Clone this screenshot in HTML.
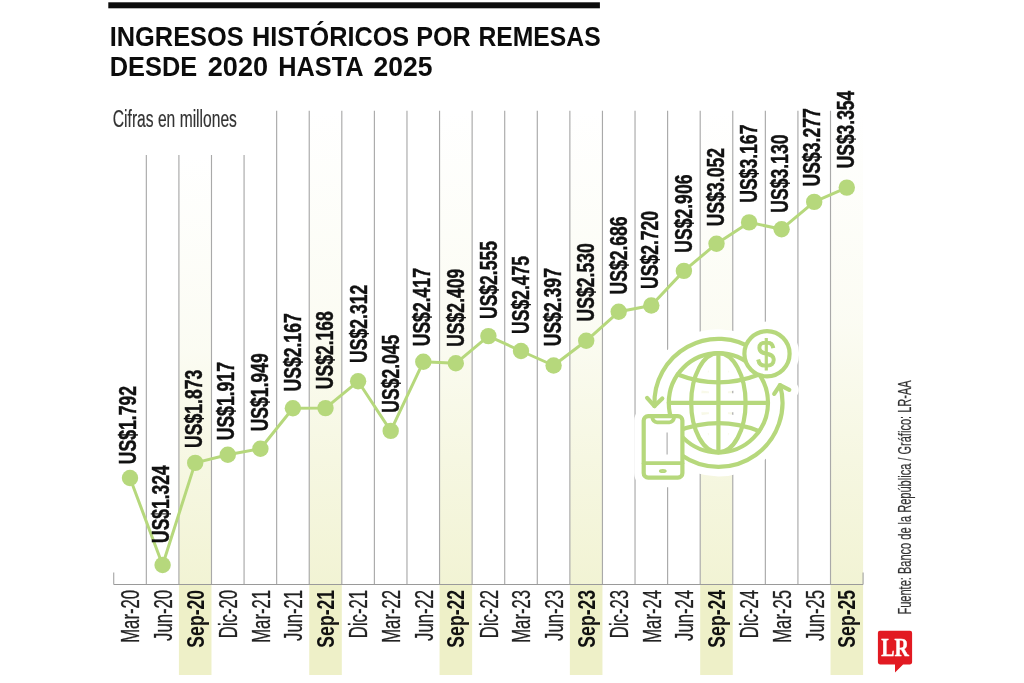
<!DOCTYPE html>
<html lang="es">
<head>
<meta charset="utf-8">
<title>Ingresos históricos por remesas</title>
<style>
html,body{margin:0;padding:0;background:#fff;}
body{width:1024px;height:683px;overflow:hidden;position:relative;}
svg{position:absolute;left:0;top:0;display:block;}
text{font-family:"Liberation Sans",sans-serif;}
.t{font-weight:bold;fill:#0c0c0c;font-size:28px;}
.sub{fill:#333;font-size:23.5px;stroke:#333;stroke-width:0.2px;}
.xl{fill:#222;font-size:25px;stroke:#222;stroke-width:0.3px;}
.xb{fill:#111;font-size:23px;font-weight:bold;}
.dl{fill:#111;font-size:23px;font-weight:bold;stroke:#111;stroke-width:0.45px;}
.src{fill:#333;font-size:18px;stroke:#333;stroke-width:0.2px;}
.lr{font-family:"Liberation Serif",serif;font-weight:bold;fill:#fff;font-size:25px;stroke:#fff;stroke-width:0.4px;}
</style>
</head>
<body>
<svg width="1024" height="683" viewBox="0 0 1024 683">
<defs>
<linearGradient id="bg" x1="0" y1="0" x2="0" y2="1">
<stop offset="0" stop-color="#eef0c8" stop-opacity="0"/>
<stop offset="0.45" stop-color="#eef0c8" stop-opacity="0.22"/>
<stop offset="0.75" stop-color="#eef0c8" stop-opacity="0.55"/>
<stop offset="1" stop-color="#eef0c8" stop-opacity="0.78"/>
</linearGradient>
</defs>
<rect x="0" y="0" width="1024" height="683" fill="#fff"/>
<rect x="108.3" y="2.3" width="491.6" height="6" fill="#0c0c0c"/>
<text class="t"><tspan x="109.75" y="45.7" textLength="133.94" lengthAdjust="spacingAndGlyphs">INGRESOS</tspan> <tspan x="251.96" y="45.7" textLength="157.20" lengthAdjust="spacingAndGlyphs">HISTÓRICOS</tspan> <tspan x="416.27" y="45.7" textLength="54.46" lengthAdjust="spacingAndGlyphs">POR</tspan> <tspan x="478.39" y="45.7" textLength="122.29" lengthAdjust="spacingAndGlyphs">REMESAS</tspan> <tspan x="109.75" y="76.4" textLength="87.45" lengthAdjust="spacingAndGlyphs">DESDE</tspan> <tspan x="207.79" y="76.4" textLength="60.35" lengthAdjust="spacingAndGlyphs">2020</tspan> <tspan x="278.17" y="76.4" textLength="84.44" lengthAdjust="spacingAndGlyphs">HASTA</tspan> <tspan x="373.51" y="76.4" textLength="58.95" lengthAdjust="spacingAndGlyphs">2025</tspan> </text>
<text class="sub" x="112.82" y="127.4" textLength="124.09" lengthAdjust="spacingAndGlyphs">Cifras en millones</text>
<rect x="178.91" y="155" width="32.58" height="429.50" fill="url(#bg)"/>
<rect x="178.91" y="584.5" width="32.58" height="90.50" fill="#eef0c8"/>
<rect x="309.23" y="110.75" width="32.58" height="473.75" fill="url(#bg)"/>
<rect x="309.23" y="584.5" width="32.58" height="90.50" fill="#eef0c8"/>
<rect x="439.55" y="110.75" width="32.58" height="473.75" fill="url(#bg)"/>
<rect x="439.55" y="584.5" width="32.58" height="90.50" fill="#eef0c8"/>
<rect x="569.87" y="110.75" width="32.58" height="473.75" fill="url(#bg)"/>
<rect x="569.87" y="584.5" width="32.58" height="90.50" fill="#eef0c8"/>
<rect x="700.19" y="110.75" width="32.58" height="473.75" fill="url(#bg)"/>
<rect x="700.19" y="584.5" width="32.58" height="90.50" fill="#eef0c8"/>
<rect x="830.51" y="110.75" width="32.58" height="473.75" fill="url(#bg)"/>
<rect x="830.51" y="584.5" width="32.58" height="90.50" fill="#eef0c8"/>
<g stroke="#a9a9a9" stroke-width="1.15">
<line x1="146.33" y1="155" x2="146.33" y2="584.5"/>
<line x1="178.91" y1="155" x2="178.91" y2="584.5"/>
<line x1="211.49" y1="155" x2="211.49" y2="584.5"/>
<line x1="244.07" y1="155" x2="244.07" y2="584.5"/>
<line x1="276.65" y1="110.75" x2="276.65" y2="584.5"/>
<line x1="309.23" y1="110.75" x2="309.23" y2="584.5"/>
<line x1="341.81" y1="110.75" x2="341.81" y2="584.5"/>
<line x1="374.39" y1="110.75" x2="374.39" y2="584.5"/>
<line x1="406.97" y1="110.75" x2="406.97" y2="584.5"/>
<line x1="439.55" y1="110.75" x2="439.55" y2="584.5"/>
<line x1="472.13" y1="110.75" x2="472.13" y2="584.5"/>
<line x1="504.71" y1="110.75" x2="504.71" y2="584.5"/>
<line x1="537.29" y1="110.75" x2="537.29" y2="584.5"/>
<line x1="569.87" y1="110.75" x2="569.87" y2="584.5"/>
<line x1="602.45" y1="110.75" x2="602.45" y2="584.5"/>
<line x1="635.03" y1="110.75" x2="635.03" y2="584.5"/>
<line x1="667.61" y1="110.75" x2="667.61" y2="584.5"/>
<line x1="700.19" y1="110.75" x2="700.19" y2="584.5"/>
<line x1="732.77" y1="110.75" x2="732.77" y2="584.5"/>
<line x1="765.35" y1="110.75" x2="765.35" y2="584.5"/>
<line x1="797.93" y1="110.75" x2="797.93" y2="584.5"/>
<line x1="830.51" y1="110.75" x2="830.51" y2="584.5"/>
</g>
<path d="M113.75 572.5V584.5H863.09V572.5" fill="none" stroke="#9a9a9a" stroke-width="1"/>
<polyline points="130.0,478.0 162.6,565.0 195.2,462.9 227.8,454.7 260.4,448.8 292.9,408.3 325.5,408.1 358.1,381.3 390.7,430.9 423.3,361.8 455.8,363.3 488.4,336.1 521.0,351.0 553.6,365.5 586.2,340.8 618.7,311.8 651.3,305.5 683.9,270.9 716.5,243.7 749.1,222.4 781.6,229.2 814.2,201.9 846.8,187.6" fill="none" stroke="#b6d87c" stroke-width="3" stroke-linejoin="round"/>
<g fill="#b6d87c">
<circle cx="130.0" cy="478.0" r="8.2"/>
<circle cx="162.6" cy="565.0" r="8.2"/>
<circle cx="195.2" cy="462.9" r="8.2"/>
<circle cx="227.8" cy="454.7" r="8.2"/>
<circle cx="260.4" cy="448.8" r="8.2"/>
<circle cx="292.9" cy="408.3" r="8.2"/>
<circle cx="325.5" cy="408.1" r="8.2"/>
<circle cx="358.1" cy="381.3" r="8.2"/>
<circle cx="390.7" cy="430.9" r="8.2"/>
<circle cx="423.3" cy="361.8" r="8.2"/>
<circle cx="455.8" cy="363.3" r="8.2"/>
<circle cx="488.4" cy="336.1" r="8.2"/>
<circle cx="521.0" cy="351.0" r="8.2"/>
<circle cx="553.6" cy="365.5" r="8.2"/>
<circle cx="586.2" cy="340.8" r="8.2"/>
<circle cx="618.7" cy="311.8" r="8.2"/>
<circle cx="651.3" cy="305.5" r="8.2"/>
<circle cx="683.9" cy="270.9" r="8.2"/>
<circle cx="716.5" cy="243.7" r="8.2"/>
<circle cx="749.1" cy="222.4" r="8.2"/>
<circle cx="781.6" cy="229.2" r="8.2"/>
<circle cx="814.2" cy="201.9" r="8.2"/>
<circle cx="846.8" cy="187.6" r="8.2"/>
</g>
<text class="dl" transform="translate(136.3,463.3) rotate(-90)" x="-0.83" textLength="78.17" lengthAdjust="spacingAndGlyphs">US$1.792</text>
<text class="dl" transform="translate(169.4,542.1) rotate(-90)" x="-0.82" textLength="77.55" lengthAdjust="spacingAndGlyphs">US$1.324</text>
<text class="dl" transform="translate(201.5,447.1) rotate(-90)" x="-0.83" textLength="78.17" lengthAdjust="spacingAndGlyphs">US$1.873</text>
<text class="dl" transform="translate(234.4,439.5) rotate(-90)" x="-0.83" textLength="78.26" lengthAdjust="spacingAndGlyphs">US$1.917</text>
<text class="dl" transform="translate(267.5,430.5) rotate(-90)" x="-0.83" textLength="78.17" lengthAdjust="spacingAndGlyphs">US$1.949</text>
<text class="dl" transform="translate(300.7,390.7) rotate(-90)" x="-0.83" textLength="78.26" lengthAdjust="spacingAndGlyphs">US$2.167</text>
<text class="dl" transform="translate(333.0,388.3) rotate(-90)" x="-0.83" textLength="77.99" lengthAdjust="spacingAndGlyphs">US$2.168</text>
<text class="dl" transform="translate(366.6,362.1) rotate(-90)" x="-0.83" textLength="78.17" lengthAdjust="spacingAndGlyphs">US$2.312</text>
<text class="dl" transform="translate(398.5,411.9) rotate(-90)" x="-0.83" textLength="77.99" lengthAdjust="spacingAndGlyphs">US$2.045</text>
<text class="dl" transform="translate(429.6,345.5) rotate(-90)" x="-0.83" textLength="78.26" lengthAdjust="spacingAndGlyphs">US$2.417</text>
<text class="dl" transform="translate(463.7,346.0) rotate(-90)" x="-0.83" textLength="78.17" lengthAdjust="spacingAndGlyphs">US$2.409</text>
<text class="dl" transform="translate(496.7,318.2) rotate(-90)" x="-0.83" textLength="77.99" lengthAdjust="spacingAndGlyphs">US$2.555</text>
<text class="dl" transform="translate(529.1,333.1) rotate(-90)" x="-0.83" textLength="77.99" lengthAdjust="spacingAndGlyphs">US$2.475</text>
<text class="dl" transform="translate(561.1,345.5) rotate(-90)" x="-0.83" textLength="78.26" lengthAdjust="spacingAndGlyphs">US$2.397</text>
<text class="dl" transform="translate(593.5,320.6) rotate(-90)" x="-0.83" textLength="78.17" lengthAdjust="spacingAndGlyphs">US$2.530</text>
<text class="dl" transform="translate(627.0,293.7) rotate(-90)" x="-0.83" textLength="78.17" lengthAdjust="spacingAndGlyphs">US$2.686</text>
<text class="dl" transform="translate(657.6,288.2) rotate(-90)" x="-0.83" textLength="78.17" lengthAdjust="spacingAndGlyphs">US$2.720</text>
<text class="dl" transform="translate(691.7,251.9) rotate(-90)" x="-0.83" textLength="78.17" lengthAdjust="spacingAndGlyphs">US$2.906</text>
<text class="dl" transform="translate(724.0,225.3) rotate(-90)" x="-0.83" textLength="78.17" lengthAdjust="spacingAndGlyphs">US$3.052</text>
<text class="dl" transform="translate(756.9,202.0) rotate(-90)" x="-0.83" textLength="78.26" lengthAdjust="spacingAndGlyphs">US$3.167</text>
<text class="dl" transform="translate(787.9,211.9) rotate(-90)" x="-0.83" textLength="78.17" lengthAdjust="spacingAndGlyphs">US$3.130</text>
<text class="dl" transform="translate(820.0,185.6) rotate(-90)" x="-0.83" textLength="78.26" lengthAdjust="spacingAndGlyphs">US$3.277</text>
<text class="dl" transform="translate(854.3,167.5) rotate(-90)" x="-0.82" textLength="77.55" lengthAdjust="spacingAndGlyphs">US$3.354</text>
<text class="xl" text-anchor="end" transform="translate(139.3,589.9) rotate(-90)" textLength="52.90" lengthAdjust="spacingAndGlyphs">Mar-20</text>
<text class="xl" text-anchor="end" transform="translate(171.9,589.9) rotate(-90)" textLength="51.06" lengthAdjust="spacingAndGlyphs">Jun-20</text>
<text class="xb" text-anchor="end" transform="translate(203.7,589.9) rotate(-90)" textLength="57.78" lengthAdjust="spacingAndGlyphs">Sep-20</text>
<text class="xl" text-anchor="end" transform="translate(237.1,589.9) rotate(-90)" textLength="48.26" lengthAdjust="spacingAndGlyphs">Dic-20</text>
<text class="xl" text-anchor="end" transform="translate(269.7,589.9) rotate(-90)" textLength="52.90" lengthAdjust="spacingAndGlyphs">Mar-21</text>
<text class="xl" text-anchor="end" transform="translate(302.2,589.9) rotate(-90)" textLength="51.06" lengthAdjust="spacingAndGlyphs">Jun-21</text>
<text class="xb" text-anchor="end" transform="translate(334.0,589.9) rotate(-90)" textLength="57.78" lengthAdjust="spacingAndGlyphs">Sep-21</text>
<text class="xl" text-anchor="end" transform="translate(367.4,589.9) rotate(-90)" textLength="48.26" lengthAdjust="spacingAndGlyphs">Dic-21</text>
<text class="xl" text-anchor="end" transform="translate(400.0,589.9) rotate(-90)" textLength="52.90" lengthAdjust="spacingAndGlyphs">Mar-22</text>
<text class="xl" text-anchor="end" transform="translate(432.6,589.9) rotate(-90)" textLength="51.06" lengthAdjust="spacingAndGlyphs">Jun-22</text>
<text class="xb" text-anchor="end" transform="translate(464.3,589.9) rotate(-90)" textLength="57.78" lengthAdjust="spacingAndGlyphs">Sep-22</text>
<text class="xl" text-anchor="end" transform="translate(497.7,589.9) rotate(-90)" textLength="48.26" lengthAdjust="spacingAndGlyphs">Dic-22</text>
<text class="xl" text-anchor="end" transform="translate(530.3,589.9) rotate(-90)" textLength="52.90" lengthAdjust="spacingAndGlyphs">Mar-23</text>
<text class="xl" text-anchor="end" transform="translate(562.9,589.9) rotate(-90)" textLength="51.06" lengthAdjust="spacingAndGlyphs">Jun-23</text>
<text class="xb" text-anchor="end" transform="translate(594.7,589.9) rotate(-90)" textLength="57.78" lengthAdjust="spacingAndGlyphs">Sep-23</text>
<text class="xl" text-anchor="end" transform="translate(628.0,589.9) rotate(-90)" textLength="48.26" lengthAdjust="spacingAndGlyphs">Dic-23</text>
<text class="xl" text-anchor="end" transform="translate(660.6,589.9) rotate(-90)" textLength="52.90" lengthAdjust="spacingAndGlyphs">Mar-24</text>
<text class="xl" text-anchor="end" transform="translate(693.2,589.9) rotate(-90)" textLength="51.06" lengthAdjust="spacingAndGlyphs">Jun-24</text>
<text class="xb" text-anchor="end" transform="translate(725.0,589.9) rotate(-90)" textLength="57.78" lengthAdjust="spacingAndGlyphs">Sep-24</text>
<text class="xl" text-anchor="end" transform="translate(758.4,589.9) rotate(-90)" textLength="48.26" lengthAdjust="spacingAndGlyphs">Dic-24</text>
<text class="xl" text-anchor="end" transform="translate(790.9,589.9) rotate(-90)" textLength="52.90" lengthAdjust="spacingAndGlyphs">Mar-25</text>
<text class="xl" text-anchor="end" transform="translate(823.5,589.9) rotate(-90)" textLength="51.06" lengthAdjust="spacingAndGlyphs">Jun-25</text>
<text class="xb" text-anchor="end" transform="translate(855.3,589.9) rotate(-90)" textLength="57.78" lengthAdjust="spacingAndGlyphs">Sep-25</text>
<text class="src" transform="translate(911.3,613.8) rotate(-90)" x="-0.78" textLength="234.22" lengthAdjust="spacingAndGlyphs">Fuente: Banco de la República / Gráfico: LR-AA</text>
<path d="M880 630.7H910a2.1 2.1 0 0 1 2.1 2.1V662.3a2.1 2.1 0 0 1 -2.1 2.1H903.1L895 672.5V664.4H880a2.1 2.1 0 0 1 -2.1 -2.1V632.8a2.1 2.1 0 0 1 2.1 -2.1Z" fill="#e21a22"/>
<text class="lr" x="881.3" y="655.6" textLength="27.6" lengthAdjust="spacingAndGlyphs">LR</text>
<g fill="none" stroke-linecap="round" stroke-linejoin="round">
<g stroke="#fff" stroke-width="19.0">
<circle cx="718.4" cy="402.8" r="49.6"/>
<ellipse cx="718.4" cy="402.8" rx="27.2" ry="49.6"/>
<path d="M718.4 353.2V452.4M668.8 402.8H768.0"/>
<path d="M677.7 374.5Q718.4 390.3 759.1 374.5"/>
<path d="M677.7 431.1Q718.4 415.3 759.1 431.1"/>
<path d="M755.1 350.4A64.0 64.0 0 0 0 654.5 406.1"/>
<path d="M647.1 397.9L654.5 406.1L662.3 398.5"/>
<path d="M681.6 455.3A64.1 64.1 0 0 0 780.0 385.1"/>
<path d="M774.2 393.9L780.0 385.1L789.3 389.9"/>
<circle cx="767.0" cy="353.7" r="22.6"/>
<rect x="643.7" y="416.1" width="38.7" height="61.6" rx="4.5"/>
</g>
<g stroke="#b6d87c" stroke-width="4.2">
<circle cx="718.4" cy="402.8" r="49.6"/>
<ellipse cx="718.4" cy="402.8" rx="27.2" ry="49.6"/>
<path d="M718.4 353.2V452.4M668.8 402.8H768.0"/>
<path d="M677.7 374.5Q718.4 390.3 759.1 374.5"/>
<path d="M677.7 431.1Q718.4 415.3 759.1 431.1"/>
<path d="M755.1 350.4A64.0 64.0 0 0 0 654.5 406.1"/>
<path d="M647.1 397.9L654.5 406.1L662.3 398.5"/>
<path d="M681.6 455.3A64.1 64.1 0 0 0 780.0 385.1"/>
<path d="M774.2 393.9L780.0 385.1L789.3 389.9"/>
</g>
<g fill="#fff" stroke="#b6d87c" stroke-width="4.2">
<circle cx="767.0" cy="353.7" r="22.6"/>
<rect x="643.7" y="416.1" width="38.7" height="61.6" rx="4.5"/>
</g>
<path d="M667.1 432.5V454.4" stroke="#a9a9a9" stroke-width="1.1" stroke-linecap="butt"/>
<g stroke="#b6d87c" stroke-width="3.8000000000000003">
<path d="M652 416.1q0.8 6.2 5 6.2h12.4q4.2 0 5 -6.2"/>
<path d="M643.7 463.2H682.4"/>
</g>
<ellipse cx="662.8" cy="471" rx="3" ry="1.2" stroke="#b6d87c" stroke-width="1.8" fill="#d3e7ad"/>
</g>
<text x="766.1" y="367.6" text-anchor="middle" font-size="39.5" textLength="19.2" lengthAdjust="spacingAndGlyphs" fill="#b6d87c" stroke="#b6d87c" stroke-width="1.1">$</text>
</svg>
</body>
</html>
